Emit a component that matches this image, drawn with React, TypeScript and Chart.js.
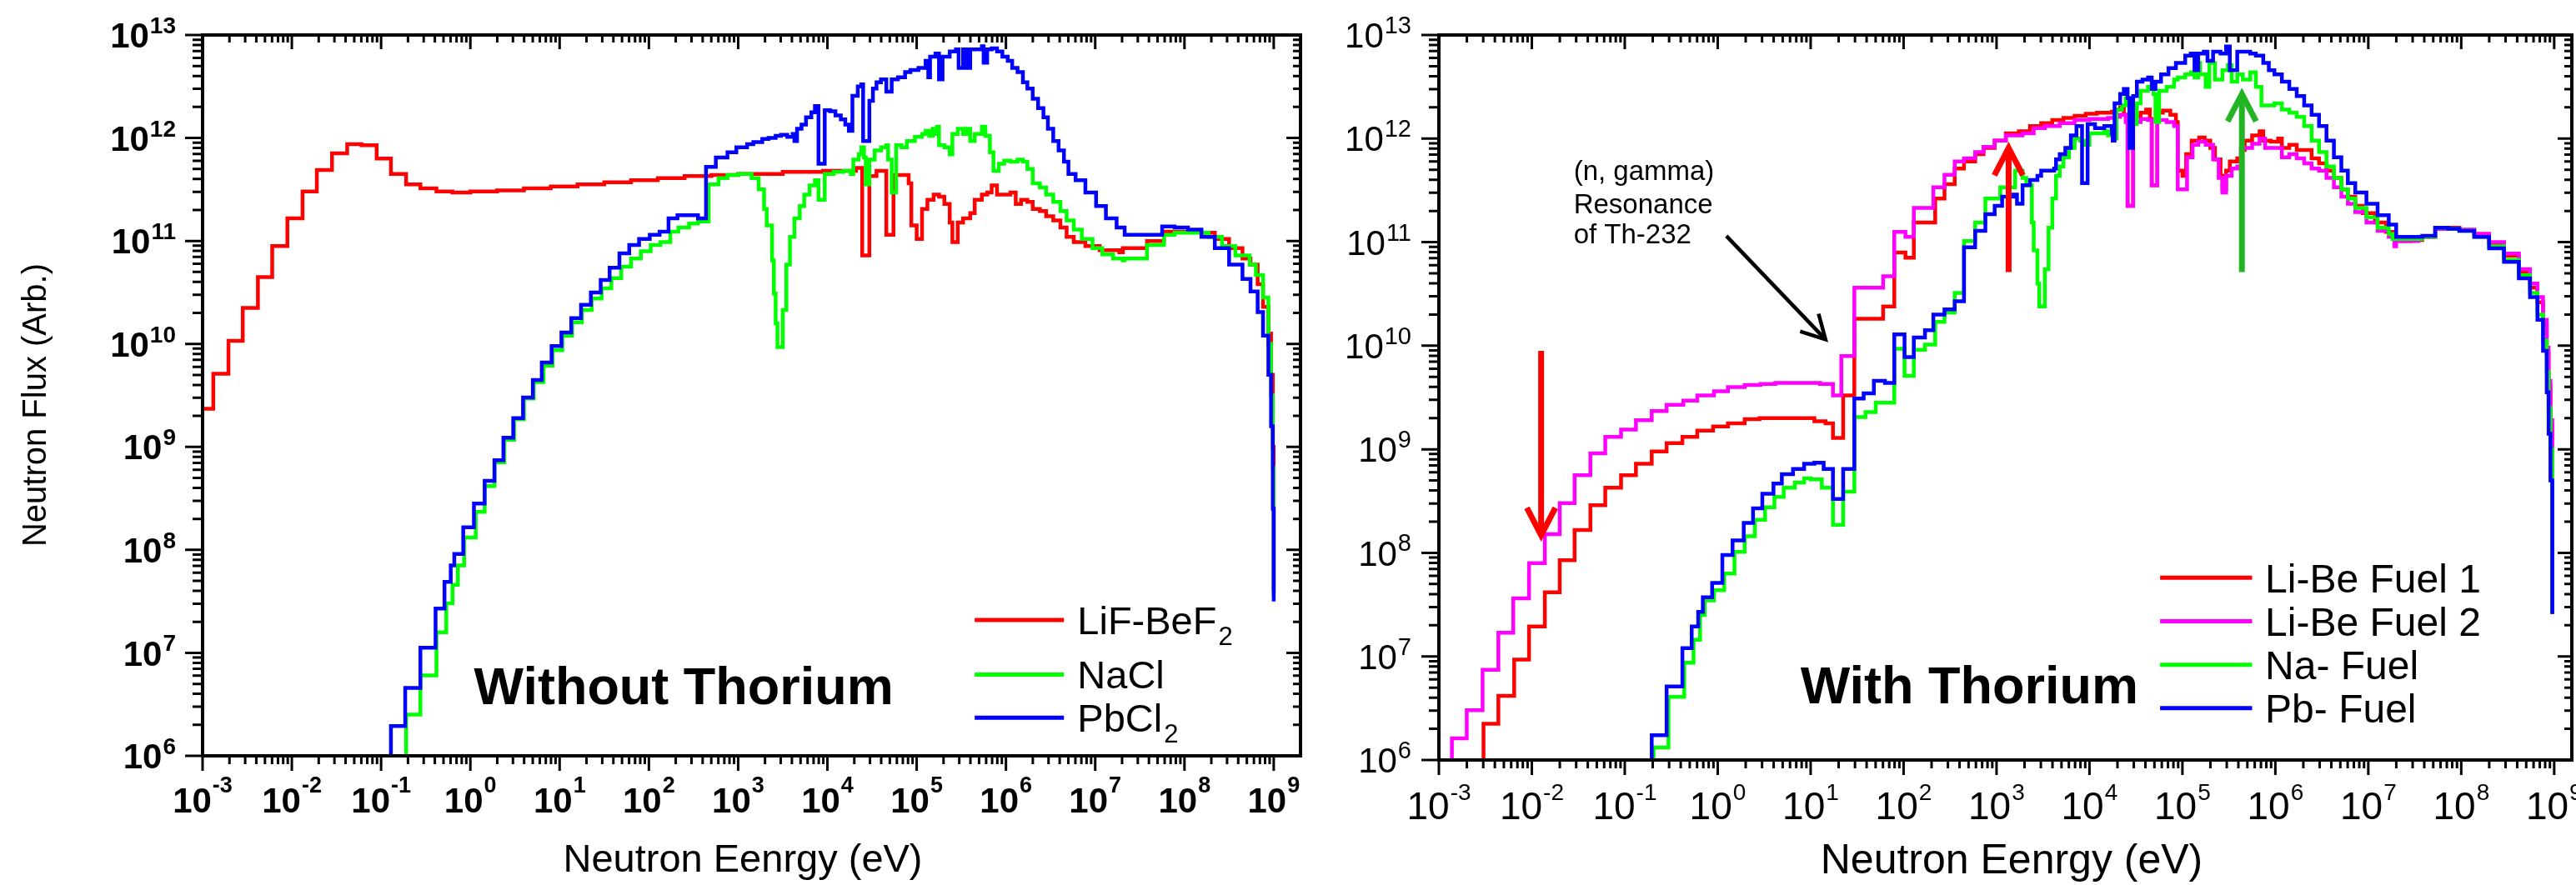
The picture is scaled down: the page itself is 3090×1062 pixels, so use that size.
import { useEffect, useRef } from "react";
import { Chart, registerables } from "chart.js";

Chart.register(...registerables);

// Each spectrum is a list of [log10 E (eV), log10 flux] bin starts; the flux
// value holds from its energy up to the next entry (histogram steps).
type Pt = [number, number];

// ---------- Without thorium ----------
const lifBeF2: Pt[] = [
  [-3.0, 9.37], [-2.88, 9.71], [-2.71, 10.03], [-2.55, 10.35], [-2.38, 10.65], [-2.22, 10.95],
  [-2.05, 11.22], [-1.88, 11.48], [-1.72, 11.69], [-1.55, 11.85], [-1.38, 11.94], [-1.22, 11.93],
  [-1.05, 11.8], [-0.89, 11.65], [-0.72, 11.55], [-0.56, 11.51], [-0.38, 11.48], [-0.2, 11.47],
  [0.0, 11.48], [0.3, 11.49], [0.6, 11.51], [0.9, 11.53], [1.2, 11.55], [1.5, 11.57], [1.8, 11.59],
  [2.1, 11.61], [2.4, 11.63], [2.7, 11.64], [3.0, 11.65], [3.5, 11.67], [3.95, 11.68], [4.32, 11.71],
  [4.39, 10.86], [4.47, 11.63], [4.55, 11.68], [4.66, 11.06], [4.74, 11.64], [4.91, 11.56], [4.94, 11.15],
  [5.0, 11.02], [5.06, 11.31], [5.12, 11.4], [5.19, 11.45], [5.25, 11.43], [5.31, 11.36], [5.37, 11.18],
  [5.4, 10.99], [5.46, 11.18], [5.52, 11.22], [5.6, 11.27], [5.65, 11.4], [5.73, 11.45], [5.79, 11.47],
  [5.84, 11.54], [5.9, 11.45], [5.98, 11.45], [6.05, 11.47], [6.11, 11.36], [6.17, 11.4], [6.24, 11.38],
  [6.3, 11.31], [6.38, 11.29], [6.45, 11.24], [6.53, 11.2], [6.61, 11.13], [6.68, 11.04], [6.76, 10.99],
  [6.89, 10.95], [7.05, 10.91], [7.27, 10.89], [7.31, 10.93], [7.58, 11.0], [7.77, 11.09], [8.0, 11.09],
  [8.19, 11.08], [8.34, 11.02], [8.5, 10.93], [8.65, 10.83], [8.74, 10.77], [8.82, 10.58], [8.88, 10.36],
  [8.94, 10.1], [8.97, 9.7], [8.99, 9.0], [9.0, 7.6],
];

const naCl: Pt[] = [
  [-0.8, 5], [-0.72, 6.4], [-0.56, 6.78], [-0.38, 7.2], [-0.27, 7.48], [-0.2, 7.66], [-0.14, 7.85],
  [-0.07, 8.12], [0.06, 8.37], [0.16, 8.62], [0.27, 8.85], [0.38, 9.07], [0.49, 9.27], [0.6, 9.47],
  [0.71, 9.63], [0.82, 9.79], [0.92, 9.94], [1.03, 10.08], [1.14, 10.21], [1.25, 10.33], [1.36, 10.44],
  [1.47, 10.54], [1.58, 10.64], [1.69, 10.75], [1.8, 10.83], [1.91, 10.9], [2.02, 10.96], [2.13, 10.99],
  [2.24, 11.09], [2.33, 11.13], [2.45, 11.17], [2.55, 11.19], [2.67, 11.55], [2.78, 11.61], [2.88, 11.64],
  [3.0, 11.65], [3.15, 11.61], [3.23, 11.5], [3.29, 11.31], [3.32, 11.15], [3.38, 10.81], [3.4, 10.49],
  [3.42, 10.2], [3.44, 9.97], [3.5, 10.33], [3.54, 10.77], [3.58, 11.04], [3.63, 11.22], [3.69, 11.34],
  [3.74, 11.45], [3.8, 11.54], [3.86, 11.59], [3.9, 11.4], [3.97, 11.65], [4.07, 11.67], [4.18, 11.68],
  [4.26, 11.65], [4.29, 11.79], [4.35, 11.84], [4.38, 11.91], [4.41, 11.81], [4.43, 11.55], [4.47, 11.79],
  [4.53, 11.88], [4.6, 11.91], [4.66, 11.93], [4.68, 11.79], [4.72, 11.47], [4.77, 11.93], [4.83, 11.91],
  [4.89, 11.97], [4.98, 12.01], [5.06, 12.04], [5.1, 12.07], [5.14, 12.02], [5.18, 12.09], [5.21, 12.04],
  [5.23, 12.11], [5.25, 11.93], [5.31, 11.91], [5.37, 11.84], [5.4, 12.04], [5.46, 12.09], [5.52, 12.04],
  [5.56, 12.09], [5.6, 11.97], [5.65, 12.04], [5.73, 12.11], [5.77, 12.02], [5.82, 11.86], [5.86, 11.68],
  [5.92, 11.75], [5.98, 11.78], [6.05, 11.77], [6.13, 11.79], [6.19, 11.77], [6.24, 11.7], [6.3, 11.56],
  [6.38, 11.52], [6.45, 11.45], [6.53, 11.38], [6.61, 11.29], [6.68, 11.2], [6.76, 11.11], [6.85, 11.02],
  [6.97, 10.93], [7.08, 10.87], [7.2, 10.83], [7.31, 10.81], [7.33, 10.83], [7.58, 10.96], [7.77, 11.06],
  [7.89, 11.08], [8.08, 11.08], [8.27, 11.04], [8.42, 10.95], [8.57, 10.86], [8.73, 10.77], [8.8, 10.67],
  [8.88, 10.45], [8.94, 10.0], [8.97, 9.5], [8.99, 8.8], [9.0, 7.55],
];

const pbCl2: Pt[] = [
  [-0.95, 5], [-0.89, 6.29], [-0.73, 6.66], [-0.56, 7.05], [-0.39, 7.43], [-0.29, 7.69], [-0.22, 7.85],
  [-0.18, 7.96], [-0.08, 8.22], [0.04, 8.45], [0.16, 8.67], [0.27, 8.87], [0.37, 9.09], [0.48, 9.28],
  [0.59, 9.48], [0.7, 9.65], [0.8, 9.82], [0.91, 9.98], [1.02, 10.11], [1.13, 10.25], [1.24, 10.38],
  [1.35, 10.5], [1.46, 10.62], [1.56, 10.74], [1.67, 10.88], [1.78, 10.96], [1.89, 11.02], [2.01, 11.06],
  [2.12, 11.09], [2.22, 11.22], [2.32, 11.25], [2.55, 11.22], [2.64, 11.72], [2.75, 11.81], [2.88, 11.86],
  [2.98, 11.91], [3.1, 11.94], [3.17, 11.96], [3.27, 11.99], [3.34, 12.0], [3.42, 12.02], [3.48, 12.03],
  [3.55, 12.01], [3.61, 12.04], [3.63, 11.97], [3.66, 12.09], [3.71, 12.13], [3.76, 12.2], [3.82, 12.25],
  [3.86, 12.31], [3.9, 11.75], [3.97, 12.27], [4.03, 12.26], [4.09, 12.22], [4.15, 12.18], [4.2, 12.13],
  [4.24, 12.07], [4.28, 12.41], [4.34, 12.5], [4.38, 12.52], [4.4, 11.97], [4.47, 12.36], [4.51, 12.48],
  [4.55, 12.54], [4.6, 12.57], [4.66, 12.45], [4.72, 12.57], [4.79, 12.59], [4.87, 12.64], [4.93, 12.66],
  [5.02, 12.68], [5.1, 12.75], [5.13, 12.59], [5.15, 12.79], [5.21, 12.82], [5.25, 12.57], [5.29, 12.79],
  [5.37, 12.84], [5.44, 12.86], [5.47, 12.68], [5.52, 12.86], [5.56, 12.68], [5.6, 12.86], [5.67, 12.86],
  [5.73, 12.89], [5.75, 12.73], [5.79, 12.86], [5.84, 12.87], [5.9, 12.84], [5.96, 12.79], [6.02, 12.75],
  [6.07, 12.68], [6.13, 12.64], [6.19, 12.54], [6.24, 12.48], [6.3, 12.38], [6.36, 12.29], [6.42, 12.2],
  [6.47, 12.09], [6.53, 11.97], [6.59, 11.88], [6.65, 11.77], [6.7, 11.65], [6.78, 11.59], [6.89, 11.47],
  [7.01, 11.34], [7.12, 11.22], [7.24, 11.13], [7.33, 11.06], [7.75, 11.14], [7.89, 11.13], [8.04, 11.11],
  [8.19, 11.04], [8.34, 10.93], [8.5, 10.77], [8.65, 10.63], [8.74, 10.51], [8.82, 10.31], [8.88, 10.08],
  [8.94, 9.7], [8.97, 9.2], [8.99, 8.4], [9.0, 7.5],
];

// ---------- With thorium ----------
const liBeFuel1: Pt[] = [
  [-2.6, 5], [-2.52, 6.35], [-2.36, 6.62], [-2.19, 6.97], [-2.03, 7.29], [-1.86, 7.62], [-1.7, 7.93],
  [-1.54, 8.22], [-1.37, 8.46], [-1.21, 8.63], [-1.04, 8.75], [-0.88, 8.86], [-0.71, 8.98], [-0.55, 9.06],
  [-0.38, 9.12], [-0.22, 9.18], [-0.05, 9.22], [0.11, 9.25], [0.29, 9.29], [0.45, 9.3], [0.62, 9.3],
  [0.79, 9.3], [0.93, 9.3], [1.04, 9.27], [1.16, 9.25], [1.24, 9.11], [1.35, 9.52], [1.47, 10.26],
  [1.78, 10.38], [1.9, 10.9], [2.02, 10.85], [2.11, 11.19], [2.34, 11.42], [2.44, 11.56], [2.55, 11.71],
  [2.65, 11.78], [2.77, 11.85], [2.86, 11.91], [2.98, 11.98], [3.1, 12.05], [3.24, 12.07], [3.36, 12.12],
  [3.48, 12.15], [3.6, 12.18], [3.72, 12.2], [3.84, 12.22], [3.96, 12.24], [4.08, 12.25], [4.24, 12.26],
  [4.28, 12.28], [4.33, 12.3], [4.37, 12.23], [4.41, 11.35], [4.47, 12.21], [4.55, 12.25], [4.61, 12.28],
  [4.65, 12.19], [4.67, 11.55], [4.73, 12.25], [4.79, 12.27], [4.87, 12.23], [4.93, 12.16], [4.95, 11.69],
  [5.0, 11.64], [5.04, 11.85], [5.1, 11.98], [5.18, 12.01], [5.24, 11.98], [5.3, 11.91], [5.35, 11.8],
  [5.41, 11.64], [5.43, 11.51], [5.47, 11.69], [5.51, 11.78], [5.59, 11.81], [5.63, 11.89], [5.67, 11.98],
  [5.75, 12.03], [5.83, 12.07], [5.87, 11.98], [5.95, 11.97], [6.03, 12.0], [6.07, 11.91], [6.15, 11.94],
  [6.23, 11.89], [6.31, 11.89], [6.39, 11.81], [6.47, 11.76], [6.55, 11.69], [6.63, 11.62], [6.71, 11.51],
  [6.78, 11.44], [6.86, 11.35], [6.94, 11.28], [7.07, 11.19], [7.19, 11.1], [7.26, 11.05], [7.3, 11.01],
  [7.46, 11.02], [7.58, 11.05], [7.72, 11.13], [7.86, 11.14], [7.98, 11.12], [8.14, 11.08], [8.3, 10.99],
  [8.46, 10.87], [8.62, 10.71], [8.74, 10.56], [8.82, 10.42], [8.88, 10.19], [8.92, 9.92], [8.94, 9.61],
  [8.96, 9.24], [8.98, 7.41],
];

const liBeFuel2: Pt[] = [
  [-2.95, 5], [-2.86, 6.21], [-2.7, 6.48], [-2.53, 6.87], [-2.36, 7.23], [-2.2, 7.56], [-2.03, 7.9],
  [-1.86, 8.18], [-1.7, 8.48], [-1.54, 8.75], [-1.37, 8.96], [-1.21, 9.12], [-1.04, 9.19], [-0.88, 9.28],
  [-0.71, 9.37], [-0.55, 9.43], [-0.37, 9.47], [-0.22, 9.52], [-0.04, 9.56], [0.11, 9.6], [0.29, 9.62],
  [0.46, 9.63], [0.62, 9.64], [0.79, 9.64], [0.97, 9.64], [1.1, 9.63], [1.24, 9.52], [1.33, 9.9],
  [1.47, 10.56], [1.78, 10.67], [1.9, 11.1], [2.02, 11.05], [2.11, 11.33], [2.32, 11.53], [2.44, 11.65],
  [2.55, 11.78], [2.65, 11.81], [2.77, 11.87], [2.86, 11.92], [2.98, 11.98], [3.1, 12.03], [3.28, 12.05],
  [3.4, 12.1], [3.52, 12.12], [3.68, 12.15], [3.84, 12.18], [4.0, 12.19], [4.2, 12.2], [4.27, 12.21],
  [4.33, 12.23], [4.39, 12.16], [4.41, 11.35], [4.47, 12.16], [4.55, 12.19], [4.63, 12.18], [4.67, 11.55],
  [4.73, 12.18], [4.83, 12.16], [4.91, 12.12], [4.95, 11.51], [5.05, 11.82], [5.11, 11.94], [5.17, 11.97],
  [5.25, 11.94], [5.33, 11.8], [5.39, 11.62], [5.43, 11.48], [5.47, 11.64], [5.53, 11.71], [5.59, 11.73],
  [5.63, 11.91], [5.67, 11.91], [5.75, 11.95], [5.83, 12.0], [5.89, 11.91], [5.99, 11.91], [6.07, 11.82],
  [6.15, 11.85], [6.23, 11.81], [6.31, 11.76], [6.39, 11.71], [6.47, 11.69], [6.55, 11.62], [6.63, 11.53],
  [6.71, 11.44], [6.78, 11.37], [6.86, 11.29], [6.98, 11.19], [7.1, 11.11], [7.22, 11.05], [7.28, 10.96],
  [7.3, 11.01], [7.54, 11.05], [7.72, 11.13], [7.86, 11.13], [7.98, 11.12], [8.14, 11.08], [8.3, 11.0],
  [8.46, 10.89], [8.62, 10.74], [8.74, 10.6], [8.82, 10.47], [8.88, 10.25], [8.92, 9.98], [8.94, 9.66],
  [8.96, 9.28], [8.98, 7.41],
];

const naFuel: Pt[] = [
  [-0.75, 5], [-0.69, 6.12], [-0.53, 6.61], [-0.36, 6.94], [-0.26, 7.16], [-0.19, 7.4], [-0.14, 7.54],
  [-0.04, 7.64], [0.07, 7.8], [0.18, 8.01], [0.29, 8.16], [0.4, 8.32], [0.51, 8.44], [0.61, 8.54],
  [0.71, 8.63], [0.83, 8.68], [0.93, 8.72], [1.0, 8.71], [1.12, 8.63], [1.24, 8.27], [1.35, 8.59],
  [1.47, 9.31], [1.59, 9.36], [1.7, 9.45], [1.9, 9.97], [2.01, 9.71], [2.11, 9.96], [2.23, 10.01],
  [2.34, 10.23], [2.44, 10.32], [2.55, 10.51], [2.65, 11.01], [2.77, 11.19], [2.88, 11.42], [3.04, 11.53],
  [3.2, 11.69], [3.28, 11.62], [3.32, 11.55], [3.38, 11.19], [3.4, 10.92], [3.44, 10.6], [3.46, 10.38],
  [3.52, 10.74], [3.56, 11.14], [3.6, 11.42], [3.64, 11.64], [3.68, 11.73], [3.72, 11.82], [3.78, 11.91],
  [3.84, 12.0], [3.9, 11.98], [3.94, 11.94], [4.0, 12.05], [4.16, 12.07], [4.2, 12.03], [4.25, 12.0],
  [4.29, 12.28], [4.35, 12.32], [4.39, 12.39], [4.43, 12.14], [4.51, 12.34], [4.55, 12.46], [4.63, 12.5],
  [4.69, 12.43], [4.71, 12.16], [4.75, 12.46], [4.83, 12.5], [4.91, 12.57], [4.95, 12.59], [5.03, 12.62],
  [5.09, 12.64], [5.13, 12.59], [5.17, 12.73], [5.19, 12.62], [5.25, 12.5], [5.29, 12.73], [5.35, 12.57],
  [5.43, 12.66], [5.49, 12.71], [5.53, 12.55], [5.59, 12.62], [5.65, 12.57], [5.73, 12.64], [5.79, 12.5],
  [5.85, 12.32], [5.99, 12.34], [6.07, 12.28], [6.15, 12.25], [6.23, 12.21], [6.31, 12.12], [6.39, 11.98],
  [6.47, 11.87], [6.55, 11.73], [6.63, 11.62], [6.71, 11.51], [6.78, 11.42], [6.86, 11.33], [6.98, 11.24],
  [7.1, 11.14], [7.22, 11.08], [7.26, 11.03], [7.58, 11.05], [7.72, 11.14], [7.86, 11.13], [7.98, 11.11],
  [8.14, 11.05], [8.3, 10.96], [8.46, 10.83], [8.62, 10.68], [8.74, 10.51], [8.82, 10.3], [8.88, 10.05],
  [8.92, 9.75], [8.94, 9.4], [8.96, 9.0], [8.98, 7.41],
];

const pbFuel: Pt[] = [
  [-0.8, 5], [-0.71, 6.24], [-0.55, 6.71], [-0.38, 7.08], [-0.28, 7.29], [-0.21, 7.43], [-0.16, 7.57],
  [-0.06, 7.71], [0.05, 7.98], [0.16, 8.12], [0.28, 8.29], [0.38, 8.43], [0.48, 8.57], [0.6, 8.67],
  [0.69, 8.76], [0.81, 8.81], [0.93, 8.86], [1.04, 8.87], [1.14, 8.81], [1.24, 8.52], [1.35, 8.81],
  [1.47, 9.49], [1.57, 9.54], [1.68, 9.66], [1.8, 9.64], [1.9, 10.11], [2.01, 9.89], [2.11, 10.08],
  [2.23, 10.15], [2.32, 10.3], [2.44, 10.35], [2.55, 10.43], [2.65, 10.95], [2.77, 11.11], [2.88, 11.27],
  [2.98, 11.35], [3.06, 11.44], [3.18, 11.46], [3.22, 11.37], [3.28, 11.55], [3.36, 11.6], [3.44, 11.64],
  [3.48, 11.69], [3.62, 11.71], [3.64, 11.8], [3.68, 11.85], [3.74, 11.91], [3.8, 12.03], [3.86, 12.12],
  [3.92, 11.57], [3.98, 12.14], [4.06, 12.1], [4.16, 12.12], [4.24, 12.05], [4.25, 11.98], [4.27, 12.34],
  [4.33, 12.43], [4.37, 12.48], [4.41, 12.39], [4.43, 11.91], [4.47, 12.41], [4.51, 12.55], [4.57, 12.57],
  [4.63, 12.59], [4.67, 12.48], [4.71, 12.55], [4.77, 12.62], [4.85, 12.68], [4.93, 12.73], [5.03, 12.8],
  [5.09, 12.82], [5.13, 12.66], [5.17, 12.82], [5.23, 12.84], [5.27, 12.75], [5.33, 12.84], [5.41, 12.82],
  [5.47, 12.89], [5.51, 12.66], [5.59, 12.84], [5.67, 12.84], [5.73, 12.82], [5.79, 12.8], [5.87, 12.73],
  [5.93, 12.66], [5.99, 12.62], [6.07, 12.55], [6.15, 12.48], [6.23, 12.41], [6.31, 12.32], [6.39, 12.23],
  [6.47, 12.12], [6.55, 11.98], [6.63, 11.82], [6.71, 11.69], [6.78, 11.57], [6.86, 11.48], [6.98, 11.37],
  [7.1, 11.26], [7.22, 11.17], [7.3, 11.05], [7.58, 11.06], [7.72, 11.14], [7.86, 11.13], [7.98, 11.11],
  [8.14, 11.05], [8.3, 10.94], [8.46, 10.81], [8.62, 10.65], [8.74, 10.47], [8.82, 10.25], [8.88, 9.95],
  [8.92, 9.55], [8.94, 9.15], [8.96, 8.7], [8.98, 7.41],
];

// Decade exponents used for the axis tick labels
const energyDecades = [-3, -2, -1, 0, 1, 2, 3, 4, 5, 6, 7, 8, 9];
const fluxDecades = [6, 7, 8, 9, 10, 11, 12, 13];

const RED = "#ff0000";
const GREEN = "#00ff00";
const BLUE = "#0000ff";
const MAGENTA = "#ff00ff";
const FONT = '"Liberation Sans", Arial, Helvetica, sans-serif';
const W = 3090;
const H = 1062;

type Series = { label: string; sub?: string; color: string; pts: Pt[]; order: number };

type PanelStyle = {
  frame: { left: number; right: number; top: number; bottom: number };
  xMaxExp: number;
  weight: string;
  yFont: number; ySup: number; yRight: number;
  xFont: number; xSup: number; xBase: number; xSupBase: number;
  xTitle: { x: number; y: number; size: number };
  yTitle?: { x: number; y: number; size: number };
  legend: { e0: number; e1: number; eText: number; size: number; rows: number[] };
  big: { text: string; e: number; f: number; size: number };
};

function power(ctx: CanvasRenderingContext2D, exp: string, x: number, base: number, supBase: number,
  size: number, supSize: number, weight: string, align: "center" | "right") {
  ctx.font = `${weight} ${size}px ${FONT}`;
  const w1 = ctx.measureText("10").width;
  ctx.font = `${weight} ${supSize}px ${FONT}`;
  const w2 = ctx.measureText(exp).width;
  const total = w1 + w2 + 1;
  const start = align === "center" ? x - total / 2 : x - total;
  ctx.textAlign = "left";
  ctx.textBaseline = "alphabetic";
  ctx.font = `${weight} ${size}px ${FONT}`;
  ctx.fillText("10", start, base);
  ctx.font = `${weight} ${supSize}px ${FONT}`;
  ctx.fillText(exp, start + w1 + 1, supBase);
}

function arrow(ctx: CanvasRenderingContext2D, x0: number, y0: number, x1: number, y1: number,
  color: string, width: number, head: number, spread: number) {
  ctx.save();
  ctx.strokeStyle = color;
  ctx.lineWidth = width;
  ctx.lineCap = "butt";
  ctx.lineJoin = "miter";
  ctx.beginPath();
  ctx.moveTo(x0, y0);
  ctx.lineTo(x1, y1);
  ctx.stroke();
  const a = Math.atan2(y1 - y0, x1 - x0);
  ctx.beginPath();
  ctx.moveTo(x1 - head * Math.cos(a - spread), y1 - head * Math.sin(a - spread));
  ctx.lineTo(x1, y1);
  ctx.lineTo(x1 - head * Math.cos(a + spread), y1 - head * Math.sin(a + spread));
  ctx.stroke();
  ctx.restore();
}

function makePlugin(style: PanelStyle, series: Series[], extra?: (chart: Chart, at: (e: number, f: number) => [number, number]) => void) {
  return {
    id: "panelDecor",
    afterDraw(chart: Chart) {
      const ctx = chart.ctx;
      const a = chart.chartArea;
      const xs = chart.scales.x;
      const ys = chart.scales.y;
      const at = (e: number, f: number): [number, number] => [xs.getPixelForValue(10 ** e), ys.getPixelForValue(10 ** f)];
      ctx.save();
      ctx.strokeStyle = "#000";
      ctx.fillStyle = "#000";
      // ticks
      ctx.lineWidth = 3;
      ctx.beginPath();
      const xMax = 10 ** style.xMaxExp;
      for (let d = -3; d <= 9; d++) {
        for (let m = 1; m <= 9; m++) {
          const v = m * 10 ** d;
          if (v > xMax * 0.999) break;
          const px = xs.getPixelForValue(v);
          const major = m === 1;
          ctx.moveTo(px, a.bottom);
          ctx.lineTo(px, a.bottom + (major ? 18 : 10));
          ctx.moveTo(px, a.top);
          ctx.lineTo(px, a.top + (major ? 17 : 9));
        }
      }
      for (let d = 6; d <= 13; d++) {
        for (let m = 1; m <= 9; m++) {
          const v = m * 10 ** d;
          if (v > 1e13 * 1.0001) break;
          const py = ys.getPixelForValue(v);
          const major = m === 1;
          ctx.moveTo(a.left, py);
          ctx.lineTo(a.left - (major ? 21 : 12), py);
          ctx.moveTo(a.right, py);
          ctx.lineTo(a.right - (major ? 17 : 9), py);
        }
      }
      ctx.stroke();
      // frame
      ctx.lineWidth = 4;
      ctx.strokeRect(a.left, a.top, a.right - a.left, a.bottom - a.top);

      // tick labels
      for (const d of energyDecades) {
        const px = xs.getPixelForValue(10 ** d);
        power(ctx, String(d), px, style.xBase, style.xSupBase, style.xFont, style.xSup, style.weight, "center");
      }
      for (const d of fluxDecades) {
        const py = ys.getPixelForValue(10 ** d);
        power(ctx, String(d), style.yRight, py + style.yFont * 0.36, py - 2, style.yFont, style.ySup, style.weight, "right");
      }

      // axis titles
      ctx.font = `${style.xTitle.size}px ${FONT}`;
      ctx.textAlign = "center";
      ctx.textBaseline = "alphabetic";
      ctx.fillText("Neutron Eenrgy (eV)", style.xTitle.x, style.xTitle.y);
      if (style.yTitle) {
        ctx.save();
        ctx.translate(style.yTitle.x, style.yTitle.y);
        ctx.rotate(-Math.PI / 2);
        ctx.font = `${style.yTitle.size}px ${FONT}`;
        ctx.textBaseline = "middle";
        ctx.fillText("Neutron Flux (Arb.)", 0, 0);
        ctx.restore();
      }

      // legend
      const lg = style.legend;
      series.forEach((s, i) => {
        const [x0, y] = at(lg.e0, lg.rows[i]);
        const [x1] = at(lg.e1, lg.rows[i]);
        const [xt] = at(lg.eText, lg.rows[i]);
        ctx.strokeStyle = s.color;
        ctx.lineWidth = 5;
        ctx.beginPath();
        ctx.moveTo(x0, y);
        ctx.lineTo(x1, y);
        ctx.stroke();
        ctx.fillStyle = "#000";
        ctx.font = `${lg.size}px ${FONT}`;
        ctx.textAlign = "left";
        ctx.textBaseline = "alphabetic";
        const base = y + lg.size * 0.36;
        ctx.fillText(s.label, xt, base);
        if (s.sub) {
          const w = ctx.measureText(s.label).width;
          ctx.font = `${Math.round(lg.size * 0.66)}px ${FONT}`;
          ctx.fillText(s.sub, xt + w + 2, base + 13);
        }
      });

      // big panel caption
      const [bx, by] = at(style.big.e, style.big.f);
      ctx.fillStyle = "#000";
      ctx.font = `bold ${style.big.size}px ${FONT}`;
      ctx.textAlign = "left";
      ctx.textBaseline = "alphabetic";
      ctx.fillText(style.big.text, bx, by);

      if (extra) extra(chart, at);
      ctx.restore();
    },
  };
}

const withoutSeries: Series[] = [
  { label: "LiF-BeF", sub: "2", color: RED, pts: lifBeF2, order: 3 },
  { label: "NaCl", color: GREEN, pts: naCl, order: 2 },
  { label: "PbCl", sub: "2", color: BLUE, pts: pbCl2, order: 1 },
];

const withSeries: Series[] = [
  { label: "Li-Be Fuel 1", color: RED, pts: liBeFuel1, order: 4 },
  { label: "Li-Be Fuel 2", color: MAGENTA, pts: liBeFuel2, order: 3 },
  { label: "Na- Fuel", color: GREEN, pts: naFuel, order: 2 },
  { label: "Pb- Fuel", color: BLUE, pts: pbFuel, order: 1 },
];

const leftStyle: PanelStyle = {
  frame: { left: 243, right: 1560, top: 42, bottom: 907 },
  xMaxExp: 9.3,
  weight: "bold",
  yFont: 42, ySup: 28, yRight: 211,
  xFont: 42, xSup: 27, xBase: 975, xSupBase: 951,
  xTitle: { x: 891, y: 1046, size: 47 },
  yTitle: { x: 44, y: 486, size: 40 },
  legend: { e0: 5.65, e1: 6.65, eText: 6.8, size: 47, rows: [7.32, 6.79, 6.37] },
  big: { text: "Without Thorium", e: 0.04, f: 6.5, size: 63 },
};

const rightStyle: PanelStyle = {
  frame: { left: 1726, right: 3085, top: 42, bottom: 912 },
  xMaxExp: 9.19,
  weight: "normal",
  yFont: 42, ySup: 29, yRight: 1693,
  xFont: 46, xSup: 28, xBase: 983, xSupBase: 960,
  xTitle: { x: 2413, y: 1048, size: 50 },
  legend: { e0: 4.76, e1: 5.75, eText: 5.89, size: 48, rows: [7.76, 7.34, 6.92, 6.5] },
  big: { text: "With Thorium", e: 0.89, f: 6.55, size: 63 },
};

function withThoriumNotes(chart: Chart, at: (e: number, f: number) => [number, number]) {
  const ctx = chart.ctx;
  // (n, gamma) note and its pointer
  const [tx] = at(-1.55, 11);
  ctx.fillStyle = "#000";
  ctx.font = `33px ${FONT}`;
  ctx.textAlign = "left";
  ctx.textBaseline = "alphabetic";
  ctx.fillText("(n, gamma)", tx, at(0, 11.6)[1]);
  ctx.fillText("Resonance", tx, at(0, 11.28)[1]);
  ctx.fillText("of Th-232", tx, at(0, 10.99)[1]);
  const [b0x, b0y] = at(0.093, 11.06);
  const [b1x, b1y] = at(1.16, 10.06);
  arrow(ctx, b0x, b0y, b1x, b1y, "#000", 4.5, 32, 0.5);
  // coloured markers
  const [r0x, r0y] = at(-1.9, 9.95);
  const [, r1y] = at(-1.9, 8.17);
  arrow(ctx, r0x, r0y, r0x, r1y, RED, 7, 37, 0.48);
  const [u0x, u0y] = at(3.13, 10.71);
  const [, u1y] = at(3.13, 11.91);
  arrow(ctx, u0x, u0y, u0x, u1y, RED, 7, 37, 0.48);
  const [g0x, g0y] = at(5.64, 10.71);
  const [, g1y] = at(5.64, 12.43);
  arrow(ctx, g0x, g0y, g0x, g1y, "#22b422", 7, 37, 0.48);
}

function buildConfig(style: PanelStyle, series: Series[], extra?: (chart: Chart, at: (e: number, f: number) => [number, number]) => void) {
  const f = style.frame;
  return {
    type: "line" as const,
    data: {
      datasets: series.map((s) => ({
        label: s.label,
        data: s.pts.map(([e, v]) => ({ x: 10 ** e, y: 10 ** v })),
        borderColor: s.color,
        borderWidth: 4.5,
        pointRadius: 0,
        stepped: true,
        fill: false,
        order: s.order,
        borderJoinStyle: "miter" as const,
      })),
    },
    options: {
      responsive: false,
      animation: false as const,
      devicePixelRatio: 1,
      layout: { padding: { left: f.left, right: W - f.right, top: f.top, bottom: H - f.bottom } },
      scales: {
        x: { type: "logarithmic" as const, min: 1e-3, max: 10 ** style.xMaxExp, display: false },
        y: { type: "logarithmic" as const, min: 1e6, max: 1e13, display: false },
      },
      plugins: { legend: { display: false }, tooltip: { enabled: false } },
      events: [],
    },
    plugins: [makePlugin(style, series, extra)],
  };
}

export default function App() {
  const leftRef = useRef<HTMLCanvasElement>(null);
  const rightRef = useRef<HTMLCanvasElement>(null);

  useEffect(() => {
    const left = new Chart(leftRef.current!, buildConfig(leftStyle, withoutSeries) as any);
    const right = new Chart(rightRef.current!, buildConfig(rightStyle, withSeries, withThoriumNotes) as any);
    return () => {
      left.destroy();
      right.destroy();
    };
  }, []);

  const canvasStyle = { position: "absolute" as const, left: 0, top: 0, width: W, height: H };
  return (
    <div style={{ position: "absolute", left: 0, top: 0, width: W, height: H, background: "#fff", overflow: "hidden" }}>
      <canvas ref={leftRef} width={W} height={H} style={canvasStyle} />
      <canvas ref={rightRef} width={W} height={H} style={canvasStyle} />
    </div>
  );
}
